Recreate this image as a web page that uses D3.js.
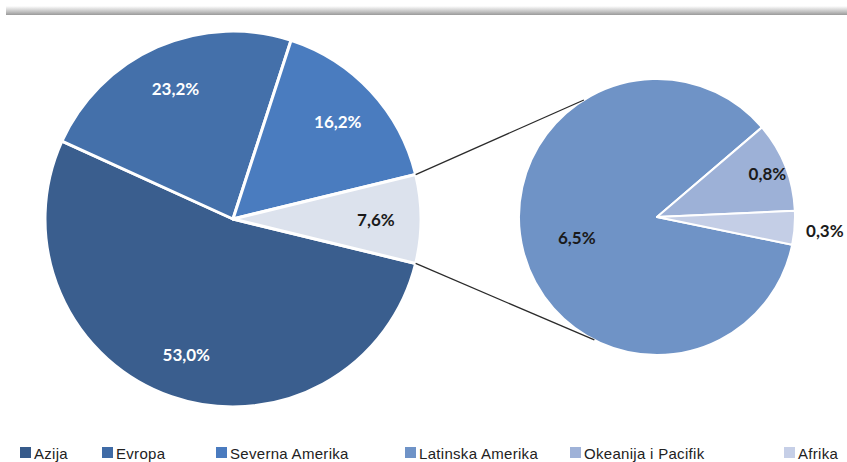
<!DOCTYPE html>
<html>
<head>
<meta charset="utf-8">
<script src="https://cdn.jsdelivr.net/npm/d3@7"></script>
<style>
  html, body { margin: 0; padding: 0; background: #fff; }
  svg { display: block; }
</style>
</head>
<body>
<svg id="chart" width="847" height="462"></svg>
<script>
// Regions and their shares (%)
const mainCategories = ["Azija", "Evropa", "Severna Amerika", "Latinska Amerika"];
const mainValues = [53.0, 23.2, 16.2, 7.6];
const mainLabels = ["53,0%", "23,2%", "16,2%", "7,6%"];

// Breakdown of the last slice of the main pie
const subCategories = ["Latinska Amerika", "Okeanija i Pacifik", "Afrika"];
const subValues = [6.5, 0.8, 0.3];
const subLabels = ["6,5%", "0,8%", "0,3%"];

const legendNames = ["Azija", "Evropa", "Severna Amerika", "Latinska Amerika", "Okeanija i Pacifik", "Afrika"];
const legendColors = ["#375b8b", "#3f6ba6", "#4a7bbf", "#6f93c7", "#9fb2d8", "#c6cfe7"];

const mainColors = ["#3a5e8e", "#4470aa", "#4a7cbf", "#dce2ed"];
const subColors = ["#6f93c6", "#9db1d7", "#c4cee6"];

const svg = d3.select("#chart");
const deg = Math.PI / 180;

// Top shadow band
const defs = svg.append("defs");
const grad = defs.append("linearGradient").attr("id", "topShade")
  .attr("x1", 0).attr("y1", 0).attr("x2", 0).attr("y2", 1);
grad.append("stop").attr("offset", "0%").attr("stop-color", "#ffffff");
grad.append("stop").attr("offset", "60%").attr("stop-color", "#c4c4c4");
grad.append("stop").attr("offset", "100%").attr("stop-color", "#9a9a9a");
svg.append("rect").attr("x", 6).attr("y", 6).attr("width", 841).attr("height", 9)
  .attr("fill", "url(#topShade)");

// ---- Main pie ----
const mainCx = 233, mainCy = 219, mainR = 188;
const otherShare = mainValues[3] / d3.sum(mainValues);
const mainStart = Math.PI / 2 + otherShare * Math.PI; // last slice centred on the right
const mainPie = d3.pie().sort(null).value(d => d)
  .startAngle(mainStart).endAngle(mainStart + 2 * Math.PI);
const mainArcs = mainPie(mainValues);
const mainArc = d3.arc().innerRadius(0).outerRadius(mainR);
const mainLabelArc = d3.arc().innerRadius(mainR * 0.76).outerRadius(mainR * 0.76);

const gMain = svg.append("g").attr("transform", `translate(${mainCx},${mainCy})`);
gMain.selectAll("path").data(mainArcs).join("path")
  .attr("d", mainArc)
  .attr("fill", (d, i) => mainColors[i])
  .attr("stroke", "#ffffff").attr("stroke-width", 3).attr("stroke-linejoin", "round");

gMain.selectAll("text").data(mainArcs).join("text")
  .attr("transform", d => `translate(${mainLabelArc.centroid(d)})`)
  .attr("text-anchor", "middle").attr("dominant-baseline", "central")
  .attr("font-family", "Lato, 'Open Sans', sans-serif").attr("font-weight", 700)
  .attr("font-size", 17)
  .attr("fill", (d, i) => i === 3 ? "#1a1a1a" : "#ffffff")
  .text((d, i) => mainLabels[i]);

// ---- Secondary pie ----
const subCx = 657, subCy = 217, subR = 138;
const smallShare = (subValues[1] + subValues[2]) / d3.sum(subValues);
const subStart = 49.5 * deg + smallShare * 2 * Math.PI; // small slices sit on the right
const subPie = d3.pie().sort(null).value(d => d)
  .startAngle(subStart).endAngle(subStart + 2 * Math.PI);
const subArcs = subPie(subValues);
const subArc = d3.arc().innerRadius(0).outerRadius(subR);

const gSub = svg.append("g").attr("transform", `translate(${subCx},${subCy})`);
gSub.selectAll("path").data(subArcs).join("path")
  .attr("d", subArc)
  .attr("fill", (d, i) => subColors[i])
  .attr("stroke", "#ffffff").attr("stroke-width", 2).attr("stroke-linejoin", "round");

const subLabelRadius = [subR * 0.6, subR * 0.86, subR * 1.22];
gSub.selectAll("text").data(subArcs).join("text")
  .attr("transform", (d, i) => {
    const a = (d.startAngle + d.endAngle) / 2;
    const r = subLabelRadius[i];
    return `translate(${Math.sin(a) * r},${-Math.cos(a) * r})`;
  })
  .attr("text-anchor", "middle").attr("dominant-baseline", "central")
  .attr("font-family", "Lato, 'Open Sans', sans-serif").attr("font-weight", 700)
  .attr("font-size", 17).attr("fill", "#1a1a1a")
  .text((d, i) => subLabels[i]);

// ---- Connector lines between the pies ----
const otherArc = mainArcs[3];
const mainPt = a => [mainCx + Math.sin(a) * mainR, mainCy - Math.cos(a) * mainR];
const subPt = a => [subCx + Math.sin(a) * subR, subCy - Math.cos(a) * subR];
const connectors = [
  [mainPt(otherArc.startAngle), subPt(-32 * deg)],
  [mainPt(otherArc.endAngle), subPt(207 * deg)]
];
svg.selectAll("line.connector").data(connectors).join("line")
  .attr("class", "connector")
  .attr("x1", d => d[0][0]).attr("y1", d => d[0][1])
  .attr("x2", d => d[1][0]).attr("y2", d => d[1][1])
  .attr("stroke", "#2b2b2b").attr("stroke-width", 1.3);

// ---- Legend ----
const legendX = [20, 102, 216, 405, 570, 784];
const legend = svg.append("g").attr("transform", "translate(0,453)");
const items = legend.selectAll("g").data(legendNames).join("g")
  .attr("transform", (d, i) => `translate(${legendX[i]},0)`);
items.append("rect").attr("x", 0).attr("y", -6).attr("width", 11).attr("height", 11)
  .attr("fill", (d, i) => legendColors[i]);
items.append("text").attr("x", 14).attr("y", 0)
  .attr("dominant-baseline", "central")
  .attr("font-family", "'Liberation Sans', Arial, sans-serif").attr("font-size", 15)
  .attr("fill", "#222").attr("letter-spacing", 0.3)
  .text(d => d);
</script>
</body>
</html>
